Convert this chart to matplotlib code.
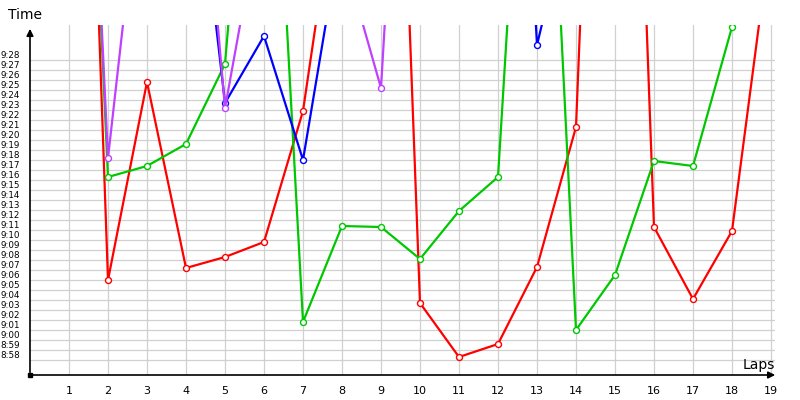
import numpy as np
import matplotlib
matplotlib.use("Agg")
import matplotlib.pyplot as plt
import matplotlib.transforms as mtransforms

# Tiempos por vuelta (h:mm:ss), None = sin dato
laps = list(range(1, 20))

red_times = ["10:56:30", "9:06:00", "9:25:48", "9:07:12", "9:08:18", "9:09:48", "9:22:54",
             "9:49:24", "10:48:00", "9:03:42", "8:58:18", "8:59:36", "9:07:18", "9:21:18",
             "10:58:00", "9:11:18", "9:04:06", "9:10:54", "9:40:42"]
green_times = ["10:41:00", "9:16:18", "9:17:24", "9:19:36", "9:27:36", "10:13:30", "9:01:48",
               "9:11:24", "9:11:18", "9:08:06", "9:12:54", "9:16:18", "10:20:00", "9:01:00",
               "9:06:30", "9:17:54", "9:17:24", "9:31:18", None]
blue_times = [None, None, None, "9:57:36", "9:23:42", "9:30:24", "9:18:00", "9:41:18",
              None, None, None, "10:40:00", "9:29:30", "9:45:48", None, None, None, None, None]
purple_times = ["10:40:00", "9:18:12", "9:52:54", "10:08:00", "9:23:12", "9:44:42", None,
                "9:38:54", "9:25:12", "10:31:30", None, None, None, None, None, None, None, None, None]

series_colors = ["#ff0000", "#00c800", "#0000ff", "#c040ff"]

# Etiquetas del eje Y (minutos)
ytick_labels = ["8:58", "8:59"] + ["9:%02d" % m for m in range(0, 29)]


def to_minutes(t):
    if t is None:
        return np.nan
    h, m, s = t.split(":")
    return int(h) * 60 + int(m) + int(s) / 60.0


def label_to_minutes(lbl):
    h, m = lbl.split(":")
    return int(h) * 60 + int(m)


fig = plt.figure(figsize=(8, 4), dpi=100)
ax = fig.add_axes([30 / 800, 25 / 400, 745 / 800, 350 / 400])

yticks = [label_to_minutes(l) for l in ytick_labels]
ax.set_ylim(yticks[0] - 1.5, yticks[-1] + 3.5)
ax.set_xlim(0, 745 / 39)

ax.set_xticks(laps)
ax.set_xticklabels([str(l) for l in laps], fontsize=8)
ax.set_yticks(yticks)
ax.set_yticklabels(ytick_labels, fontsize=6.3)
ax.tick_params(axis="both", length=0)
ax.tick_params(axis="x", pad=8)
ax.tick_params(axis="y", pad=7)

# Subir un poco las etiquetas del eje Y
offset = mtransforms.ScaledTranslation(0, 5 / 100, fig.dpi_scale_trans)
for lbl in ax.get_yticklabels():
    lbl.set_transform(lbl.get_transform() + offset)

ax.grid(True, color="#d0d0d0", linewidth=0.9)
ax.set_axisbelow(True)
for sp in ax.spines.values():
    sp.set_visible(False)

for times, col in zip([red_times, green_times, blue_times, purple_times], series_colors):
    vals = [to_minutes(t) for t in times]
    ax.plot(laps, vals, color=col, linewidth=1.6, marker="o", markersize=4.3,
            markerfacecolor="white", markeredgecolor=col, markeredgewidth=1.0)

# Ejes con flechas
arrow = dict(arrowstyle="-|>", color="black", linewidth=1.2, mutation_scale=10)
ax.annotate("", xy=(0, 0.997), xytext=(0, 0), xycoords="axes fraction",
            arrowprops=arrow, annotation_clip=False)
ax.annotate("", xy=(1.004, 0), xytext=(0, 0), xycoords="axes fraction",
            arrowprops=arrow, annotation_clip=False)
ax.plot([0], [0], "s", color="black", markersize=3, transform=ax.transAxes, clip_on=False)

fig.text(25 / 800, 1 - 15 / 400, "Time", fontsize=10, ha="center", va="center")
fig.text(759 / 800, 1 - 365 / 400, "Laps", fontsize=10, ha="center", va="center")

fig.savefig("out.png", dpi=100)
